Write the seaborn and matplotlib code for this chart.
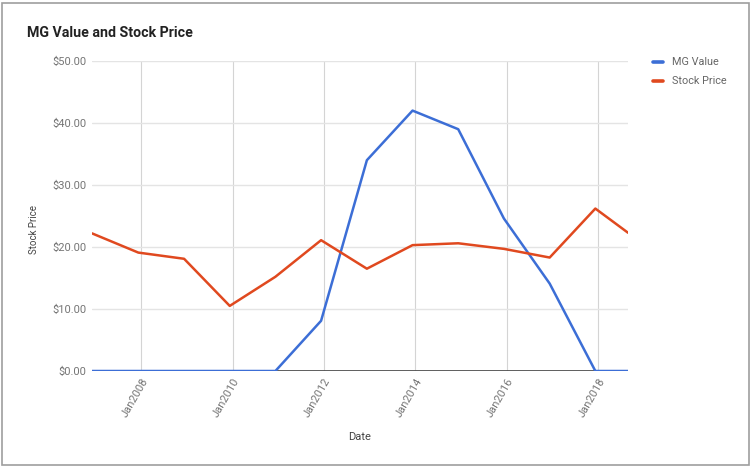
import numpy as np
import pandas as pd
import matplotlib
matplotlib.use('Agg')
import matplotlib.pyplot as plt
import matplotlib.dates as mdates
import matplotlib.ticker as mticker
import seaborn as sns

# values
dates = ['2006-12-05', '2007-12-10', '2008-12-10', '2009-12-10', '2010-12-10',
         '2011-12-10', '2012-12-10', '2013-12-10', '2014-12-10', '2015-12-10',
         '2016-12-10', '2017-12-10', '2018-08-28']
mg_value = [0, 0, 0, 0, 0, 8.1, 34.0, 42.0, 39.0, 24.6, 14.1, 0, 0]
stock_price = [22.2, 19.1, 18.1, 10.5, 15.2, 21.1, 16.5, 20.3, 20.6, 19.7,
               18.3, 26.2, 22.3]
series_names = ['MG Value', 'Stock Price']
series_colors = ['#3c6ed6', '#e0491f']

df = pd.DataFrame({'Date': pd.to_datetime(dates),
                   'MG Value': mg_value, 'Stock Price': stock_price})
long_df = df.melt(id_vars='Date', var_name='series', value_name='price')

sns.set_style('white')
plt.rcParams['font.family'] = ['Roboto', 'DejaVu Sans']

fig = plt.figure(figsize=(7.52, 4.68), dpi=100)
ax = fig.add_axes([92/752, 1-371/468, (628-92)/752, (371-61)/468])

sns.lineplot(data=long_df, x='Date', y='price', hue='series',
             hue_order=series_names, palette=series_colors, lw=1.8, ax=ax,
             legend=False, zorder=3)

ax.set_xlim(pd.Timestamp(dates[0]), pd.Timestamp(dates[-1]))
ax.set_ylim(0, 50)
ax.yaxis.set_major_locator(mticker.MultipleLocator(10))
ax.yaxis.set_major_formatter(mticker.FuncFormatter(lambda v, p: f'${v:.2f}'))
ax.xaxis.set_major_locator(mdates.YearLocator(2))
ax.xaxis.set_major_formatter(mdates.DateFormatter('Jan%Y'))

ax.grid(axis='y', color='#e4e4e4', lw=1)
ax.grid(axis='x', color='#d4d4d4', lw=0.8)
for s in ax.spines.values():
    s.set_visible(False)
ax.axhline(0, color='#444444', lw=1.2, zorder=2)
ax.tick_params(length=0, labelsize=8, labelcolor='#757575', pad=4)
plt.setp(ax.get_xticklabels(), rotation=60, ha='right', rotation_mode='anchor')

ax.set_xlabel('Date', fontsize=8, color='#444444')
ax.xaxis.set_label_coords((360-92)/536, -(432-371)/310)
ax.set_ylabel('Stock Price', fontsize=7, color='#444444')
ax.yaxis.set_label_coords(-(92-39)/536, (371-230)/310)

fig.text(27/752, 1-33/468, 'MG Value and Stock Price', fontsize=10.2,
         fontweight='bold', color='#222222', va='center')

# legend
for i, (name, col) in enumerate(zip(series_names, series_colors)):
    y = 1 - (62 + 19*i)/468
    fig.add_artist(plt.Line2D([653/752, 663/752], [y, y], color=col, lw=2.6))
    fig.text(672/752, y, name, fontsize=7.8, color='#666666', va='center')

fig.add_artist(plt.Rectangle((2/752, 3/468), 747/752, 462/468, fill=False,
                             edgecolor='#9e9e9e', lw=1.2))

fig.savefig('out.png', dpi=100)
